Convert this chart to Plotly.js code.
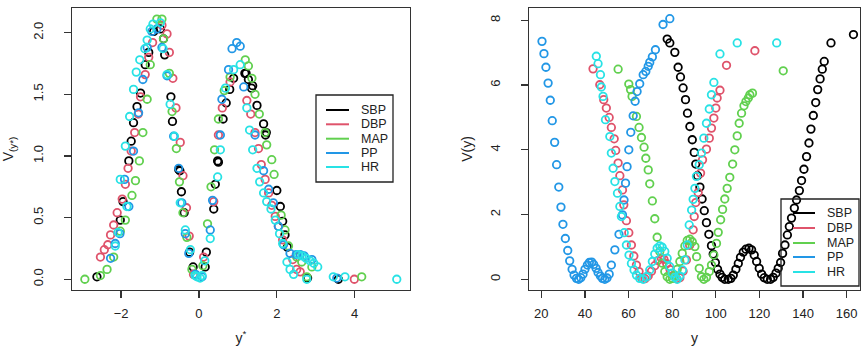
<!DOCTYPE html>
<html>
<head>
<meta charset="utf-8">
<script src="https://cdn.plot.ly/plotly-3.0.1.min.js"></script>
<style>
  html, body { margin: 0; padding: 0; background: #ffffff; }
  #chart { width: 861px; height: 349px; }
</style>
</head>
<body>
<div id="chart"></div>
<script>
// Series names and colours (SBP, DBP, MAP, PP, HR)
const seriesNames = ['SBP', 'DBP', 'MAP', 'PP', 'HR'];
const seriesColors = ['#000000', '#DF536B', '#61D04F', '#2297E6', '#28E2E5'];

// ---- Left panel: standardised scale y* against V(y*) ----
const stdSBP_x = [-2.62,-2.02,-1.95,-1.80,-1.74,-1.68,-1.59,-1.50,-1.38,-1.29,-1.16,-0.99,-0.91,-0.88,-0.72,-0.68,-0.52,-0.49,-0.45,-0.38,-0.24,-0.15,0.16,0.19,0.38,0.42,0.48,0.50,0.62,0.70,0.79,0.89,1.18,1.21,1.27,1.35,1.38,1.49,1.66,1.71,1.73,2.00,2.09,2.15,2.21,2.27,2.79,3.58];
const stdSBP_y = [0.02,0.48,0.63,0.96,1.12,1.27,1.40,1.51,1.74,1.84,2.01,2.03,1.95,1.82,1.48,1.28,0.89,0.88,0.71,0.54,0.22,0.10,0.10,0.22,0.57,0.77,0.96,0.95,1.30,1.43,1.54,1.63,1.67,1.67,1.62,1.55,1.57,1.41,1.26,1.17,1.19,0.72,0.59,0.47,0.36,0.26,0.01,0.00];

const stdDBP_x = [-2.53,-2.43,-2.34,-2.27,-2.19,-2.10,-1.97,-1.89,-1.82,-1.74,-1.65,-1.56,-1.50,-1.38,-1.29,-1.19,-0.95,-0.82,-0.76,-0.67,-0.59,-0.48,-0.41,-0.32,-0.25,-0.14,0.12,0.38,0.50,0.60,0.80,1.23,1.33,1.44,1.53,1.60,1.70,1.79,1.87,1.96,2.04,2.15,2.41,2.51,2.60,3.99];
const stdDBP_y = [0.18,0.24,0.28,0.36,0.44,0.54,0.65,0.77,0.90,1.04,1.19,1.34,1.48,1.66,1.80,1.92,2.06,1.99,1.84,1.63,1.39,1.11,0.84,0.58,0.35,0.04,0.18,0.63,1.17,1.39,1.60,1.45,1.34,1.19,1.06,0.93,0.81,0.70,0.60,0.51,0.43,0.32,0.16,0.08,0.06,0.00];

const stdMAP_x = [-2.93,-2.53,-2.36,-2.19,-2.02,-1.89,-1.72,-1.63,-1.53,-1.44,-1.33,-1.25,-1.08,-0.95,-0.91,-0.76,-0.69,-0.58,-0.50,-0.41,-0.31,-0.18,0.10,0.22,0.31,0.40,0.50,0.65,0.80,1.19,1.27,1.36,1.44,1.55,1.70,1.74,1.87,1.93,2.11,2.21,2.30,2.51,2.64,2.77,2.90,4.18];
const stdMAP_y = [0.00,0.03,0.08,0.18,0.39,0.48,0.68,0.80,0.96,1.19,1.46,1.74,2.11,2.11,1.95,1.67,1.36,1.06,0.79,0.54,0.34,0.08,0.11,0.45,0.75,1.05,1.30,1.53,1.64,1.78,1.73,1.63,1.50,1.34,1.19,1.09,0.97,0.85,0.52,0.40,0.27,0.18,0.14,0.02,0.10,0.02];

const stdPP_x = [-2.27,-2.15,-2.03,-1.91,-1.80,-1.68,-1.55,-1.44,-1.33,-1.21,-1.08,-0.95,-0.82,-0.65,-0.52,-0.44,-0.35,-0.26,-0.09,0.08,0.29,0.35,0.55,0.59,0.76,0.85,0.97,1.06,1.15,1.44,1.66,1.79,1.91,2.04,2.17,2.34,2.50,2.60,2.70,2.90,3.54];
const stdPP_y = [0.17,0.29,0.37,0.81,0.59,1.04,1.35,1.62,1.88,2.01,2.03,1.88,1.65,1.16,0.90,0.62,0.37,0.21,0.04,0.02,0.40,0.64,1.17,1.46,1.70,1.87,1.92,1.89,1.56,1.17,0.88,0.73,0.62,0.43,0.28,0.21,0.20,0.20,0.19,0.16,0.01];

const stdHR_x = [-2.15,-2.08,-2.02,-1.89,-1.85,-1.78,-1.68,-1.61,-1.52,-1.39,-1.33,-1.25,-1.18,-0.99,-0.92,-0.82,-0.74,-0.63,-0.48,-0.35,-0.22,-0.10,-0.05,0.03,0.08,0.15,0.29,0.48,0.55,0.68,0.89,1.06,1.23,1.30,1.38,1.49,1.56,1.66,1.74,1.85,1.96,2.07,2.15,2.26,2.34,2.43,2.55,2.65,2.75,2.85,2.95,3.05,2.77,3.45,3.75,5.08];
const stdHR_y = [0.27,0.38,0.81,1.08,0.59,1.32,1.54,1.68,1.78,1.87,1.94,2.03,2.07,2.08,1.87,1.66,1.42,1.16,0.62,0.40,0.24,0.03,0.02,0.01,0.03,0.15,0.33,0.83,1.05,1.55,1.70,1.74,1.39,1.21,1.05,0.90,0.79,0.70,0.63,0.57,0.48,0.37,0.29,0.14,0.08,0.04,0.20,0.19,0.17,0.15,0.13,0.10,0.00,0.02,0.02,0.00];

// ---- Right panel: original scale y against V(y) ----
const rawSBP_x = [77.7,78.9,81.2,82.7,83.8,85.0,86.1,87.0,88.1,89.2,90.1,90.8,91.6,92.7,93.7,94.7,95.7,96.8,98.0,98.8,99.8,100.8,101.9,102.9,104.1,105.7,106.9,108.0,109.2,110.3,111.3,112.6,113.8,115.2,116.4,117.6,118.7,119.9,121.0,122.2,123.6,125.1,126.3,127.6,128.6,129.7,130.6,131.7,132.8,133.7,134.7,136.0,137.0,138.3,139.3,140.4,141.6,142.7,143.6,144.7,145.8,146.7,147.8,148.8,149.7,152.8,163.1];
const rawSBP_y = [7.42,7.30,7.01,6.55,6.25,5.91,5.55,5.13,4.72,4.31,3.92,3.56,3.20,2.85,2.48,2.12,1.75,1.39,1.04,0.78,0.52,0.31,0.16,0.06,0.00,0.00,0.03,0.13,0.31,0.49,0.68,0.84,0.93,0.96,0.91,0.75,0.55,0.34,0.16,0.05,0.00,0.00,0.06,0.19,0.34,0.52,0.80,1.06,1.37,1.63,1.89,2.20,2.45,2.74,3.05,3.40,3.79,4.21,4.64,5.06,5.46,5.86,6.19,6.49,6.73,7.30,7.56];

const rawDBP_x = [43.7,46.8,48.6,49.8,51.1,52.1,53.4,54.1,55.2,56.0,57.2,57.8,59.0,60.1,61.3,62.4,63.6,64.8,66.0,67.5,69.0,70.5,72.0,73.5,75.0,76.2,77.5,79.0,80.5,82.0,83.5,85.0,86.5,88.0,89.6,90.1,90.8,91.9,93.0,93.9,95.7,97.0,98.0,99.1,100.0,100.6,101.9,104.9,117.9];
const rawDBP_y = [6.50,6.01,5.55,5.29,5.00,4.69,4.34,3.98,3.59,3.20,2.76,2.30,1.81,1.44,1.06,0.72,0.44,0.24,0.05,0.02,0.10,0.25,0.42,0.58,0.66,0.62,0.48,0.30,0.12,0.02,0.05,0.25,0.60,1.05,1.53,1.94,2.37,2.68,3.28,3.69,4.02,4.36,4.67,4.98,5.29,5.60,5.84,6.61,7.06];

const rawMAP_x = [55.2,60.1,60.9,61.6,63.6,64.8,65.9,67.1,67.9,69.0,69.7,70.9,72.0,73.1,74.3,75.5,76.6,77.7,78.9,80.1,81.2,82.3,83.5,84.6,85.8,86.9,88.1,89.2,90.4,91.2,92.4,93.4,94.5,95.7,97.0,98.0,99.1,100.3,101.1,102.2,103.1,104.1,105.2,106.4,107.7,108.7,109.8,110.7,111.8,112.9,113.8,114.9,115.6,116.8,130.9];
const rawMAP_y = [6.49,6.03,5.86,5.65,5.03,4.69,4.38,4.08,3.74,3.38,2.95,2.42,1.87,1.30,0.86,0.50,0.24,0.08,0.00,0.03,0.13,0.31,0.55,0.80,1.03,1.20,1.24,1.16,1.01,0.70,0.34,0.08,0.00,0.06,0.24,0.44,0.75,1.11,1.45,1.84,2.16,2.48,2.81,3.15,3.56,4.00,4.43,4.82,5.13,5.36,5.49,5.60,5.70,5.75,6.44];

const rawPP_x = [20.3,21.2,22.1,23.1,24.1,25.0,26.1,27.0,28.0,29.0,29.9,31.0,32.1,33.0,34.1,35.0,36.1,37.1,38.1,39.1,40.0,41.1,42.0,43.1,44.0,45.1,46.0,47.1,48.0,49.1,50.1,51.1,52.1,53.7,55.6,57.2,57.9,58.6,59.3,60.1,61.0,62.1,63.0,63.9,65.1,66.7,67.9,69.0,69.7,70.9,72.3,75.8,78.9];
const rawPP_y = [7.35,6.97,6.55,6.06,5.53,4.90,4.23,3.54,2.85,2.23,1.70,1.26,0.89,0.57,0.31,0.13,0.03,0.00,0.05,0.16,0.31,0.44,0.52,0.53,0.46,0.34,0.21,0.10,0.03,0.00,0.04,0.16,0.44,0.91,1.39,1.99,2.45,2.97,3.48,4.00,4.54,5.05,5.50,5.80,6.04,6.32,6.42,6.58,6.70,6.87,7.09,7.87,8.05];

const rawHR_x = [45.2,46.0,47.1,47.5,48.3,49.4,51.4,52.1,52.9,53.7,54.9,56.0,56.7,58.0,59.0,60.2,61.3,62.5,63.6,65.1,66.7,68.2,69.7,70.9,72.0,73.1,74.3,75.4,76.6,77.7,78.9,80.0,81.2,82.3,83.5,84.7,85.8,86.9,87.8,88.9,89.6,90.4,91.1,92.4,93.4,94.5,95.7,97.0,98.0,99.1,101.9,109.8,127.9];
const rawHR_y = [6.89,6.66,6.32,5.94,5.65,4.93,4.41,3.90,3.43,3.02,2.66,2.25,1.94,1.44,1.06,0.75,0.49,0.29,0.13,0.03,0.00,0.08,0.29,0.55,0.78,0.96,1.03,0.99,0.86,0.65,0.39,0.19,0.06,0.00,0.10,0.29,0.60,1.06,1.68,2.14,2.47,2.81,3.18,3.54,3.90,4.36,4.82,5.26,5.70,6.08,6.96,7.30,7.30];

// Tick values and labels
const stdXTicks = [-2, 0, 2, 4];
const stdXLabels = ['\u22122', '0', '2', '4'];
const stdYTicks = [0, 0.5, 1, 1.5, 2];
const stdYLabels = ['0.0', '0.5', '1.0', '1.5', '2.0'];
const rawXTicks = [20, 40, 60, 80, 100, 120, 140, 160];
const rawYTicks = [0, 2, 4, 6, 8];

const stdX = [stdSBP_x, stdDBP_x, stdMAP_x, stdPP_x, stdHR_x];
const stdY = [stdSBP_y, stdDBP_y, stdMAP_y, stdPP_y, stdHR_y];
const rawX = [rawSBP_x, rawDBP_x, rawMAP_x, rawPP_x, rawHR_x];
const rawY = [rawSBP_y, rawDBP_y, rawMAP_y, rawPP_y, rawHR_y];

const traces = [];
function addPanel(xs, ys, xa, ya) {
  seriesNames.forEach((name, i) => {
    traces.push({
      type: 'scatter', mode: 'markers', name: name,
      x: xs[i], y: ys[i], xaxis: xa, yaxis: ya,
      showlegend: false, hoverinfo: 'skip',
      marker: { symbol: 'circle-open', size: 7.5, color: seriesColors[i],
                line: { width: 1.8, color: seriesColors[i] } }
    });
  });
}
addPanel(stdX, stdY, 'x', 'y');
addPanel(rawX, rawY, 'x2', 'y2');

// Figure geometry (pixels)
const W = 861, H = 349;
const M = { l: 72, r: 1, t: 8, b: 59 };
const plotW = W - M.l - M.r, plotH = H - M.t - M.b;
const paperX = p => (p - M.l) / plotW;
const paperY = p => (H - M.b - p) / plotH;

// Boxed legends with line samples, one per panel
const shapes = [], annotations = [];
function addLegend(box, lineX0, lineX1, textX, rows) {
  shapes.push({ type: 'rect', xref: 'paper', yref: 'paper',
    x0: paperX(box[0]), x1: paperX(box[1]), y0: paperY(box[3]), y1: paperY(box[2]),
    line: { color: '#222', width: 1.3 }, fillcolor: 'rgba(0,0,0,0)', layer: 'above' });
  seriesNames.forEach((name, i) => {
    shapes.push({ type: 'line', xref: 'paper', yref: 'paper',
      x0: paperX(lineX0), x1: paperX(lineX1), y0: paperY(rows[i]), y1: paperY(rows[i]),
      line: { color: seriesColors[i], width: 2 }, layer: 'above' });
    annotations.push({ xref: 'paper', yref: 'paper', x: paperX(textX), y: paperY(rows[i]),
      text: name, showarrow: false, xanchor: 'left', yanchor: 'middle',
      font: { family: 'Liberation Sans, Arial, sans-serif', size: 12.5, color: '#222' } });
  });
}
addLegend([316, 393, 95, 182], 326, 349, 359, [110, 124.3, 138.7, 153, 167]);
addLegend([781, 859, 199, 286], 793, 815, 825, [213, 228, 243, 257, 272]);

const tickFont = { family: 'Liberation Sans, Arial, sans-serif', size: 13, color: '#222' };
const titleFont = { family: 'Liberation Sans, Arial, sans-serif', size: 14, color: '#222' };
const axisCommon = {
  showgrid: false, zeroline: false, showline: true, mirror: true,
  linecolor: '#333', linewidth: 1.2, ticks: 'outside', ticklen: 7,
  tickcolor: '#333', tickwidth: 1.2, tickfont: tickFont, fixedrange: true
};

const layout = {
  width: W, height: H, margin: M,
  paper_bgcolor: '#ffffff', plot_bgcolor: '#ffffff',
  showlegend: false,
  xaxis: Object.assign({}, axisCommon, {
    domain: [0, paperX(410)], range: [-3.26, 5.42],
    tickvals: stdXTicks, ticktext: stdXLabels, ticklabelstandoff: 4,
    title: { text: 'y<sup>*</sup>', font: titleFont, standoff: 13 }
  }),
  yaxis: Object.assign({}, axisCommon, {
    domain: [0, 1], range: [-0.087, 2.2],
    tickvals: stdYTicks, ticktext: stdYLabels, tickangle: -90, ticklabelstandoff: 16,
    title: { text: 'V<sub>(y*)</sub>', font: titleFont, standoff: 13 }
  }),
  xaxis2: Object.assign({}, axisCommon, {
    anchor: 'y2', domain: [paperX(529), paperX(860)], range: [14.34, 166.1],
    tickvals: rawXTicks, ticklabelstandoff: 4,
    title: { text: 'y', font: titleFont, standoff: 13 }
  }),
  yaxis2: Object.assign({}, axisCommon, {
    anchor: 'x2', domain: [0, 1], range: [-0.33, 8.38],
    tickvals: rawYTicks, tickangle: -90, ticklabelstandoff: 16,
    title: { text: 'V(y)', font: titleFont, standoff: 11 }
  }),
  shapes: shapes,
  annotations: annotations
};

Plotly.newPlot('chart', traces, layout, { staticPlot: true, displayModeBar: false });
</script>
</body>
</html>
